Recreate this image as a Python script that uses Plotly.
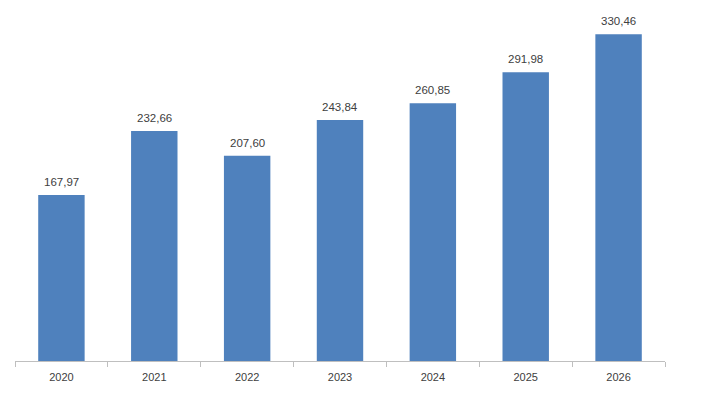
import plotly.graph_objects as go

years = ["2020", "2021", "2022", "2023", "2024", "2025", "2026"]
values = [167.97, 232.66, 207.60, 243.84, 260.85, 291.98, 330.46]
labels = [f"{v:.2f}".replace(".", ",") for v in values]

font = "Liberation Sans, Arial, sans-serif"

fig = go.Figure(go.Bar(
    x=years, y=values,
    marker=dict(color="#4F81BD", line=dict(width=0)),
    width=0.5,
))
for i, (v, lab) in enumerate(zip(values, labels)):
    fig.add_annotation(x=i, y=v, text=lab, showarrow=False, yanchor="bottom",
                       yshift=5, font=dict(family=font, size=11.5, color="#404040"))

fig.update_layout(
    width=702, height=385,
    margin=dict(l=7, r=45, t=7, b=32),
    paper_bgcolor="white", plot_bgcolor="white",
    showlegend=False,
    xaxis=dict(type="category", showline=True, linecolor="#BFBFBF", linewidth=1,
               ticks="outside", tickson="boundaries", ticklen=5, tickcolor="#BFBFBF",
               ticklabelstandoff=6, tickangle=0,
               tickfont=dict(family=font, size=11, color="#404040"),
               showgrid=False),
    yaxis=dict(range=[0, 350], visible=False, showgrid=False),
)
fig.write_html("out.html")
